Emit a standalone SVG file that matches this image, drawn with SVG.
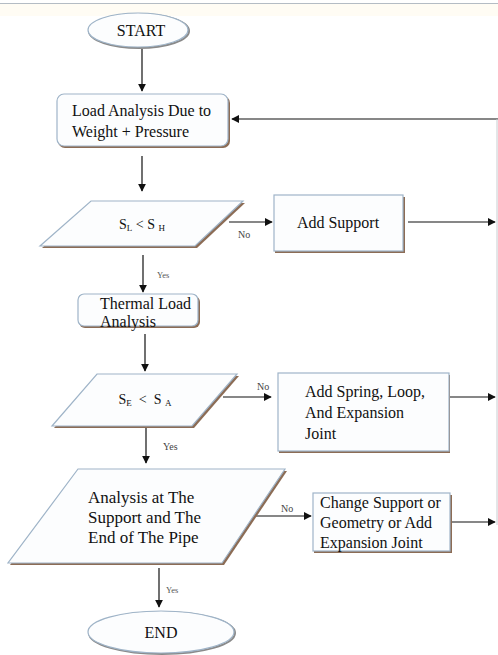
<svg xmlns="http://www.w3.org/2000/svg" width="498" height="655" viewBox="0 0 498 655" font-family="'Liberation Serif', 'Times New Roman', 'DejaVu Serif', serif">
  <style>
    .shape { fill: #fcfdfe; stroke: #9fb4c8; stroke-width: 1.2; }
    .shadow { fill: #8c6c55; stroke: none; }
    .eshadow { fill: none; stroke: #8a8a8a; stroke-width: 2; }
    text { font-family: "Liberation Serif", "Times New Roman", "DejaVu Serif", serif; fill: #111; }
    .txt { font-size: 16px; }
    .big { font-size: 17px; }
    .sym { font-size: 14px; }
    .sub { font-size: 9px; }
    .lbl { font-size: 10px; fill: #444; }
    .lbl-s { font-size: 8.5px; fill: #555; }
    .conn { fill: none; stroke: #111; stroke-width: 1.2; }
    .faint { fill: none; stroke: #c8ccd0; stroke-width: 1; }
  </style>
  <defs>
    <marker id="arrow" viewBox="0 0 10 10" refX="9" refY="5" markerWidth="8" markerHeight="8" markerUnits="userSpaceOnUse" orient="auto">
      <path d="M0,0 L10,5 L0,10 Z" fill="#111"/>
    </marker>
  </defs>

  <rect x="0" y="0" width="498" height="655" fill="#ffffff"/>
  <rect x="0" y="4" width="498" height="12" fill="#fffcf4"/>
  <line x1="0" y1="3.5" x2="498" y2="3.5" stroke="#b4bcc4" stroke-width="1"/>

  <!-- connectors -->
  <g id="connectors">
    <line class="conn" x1="142" y1="49" x2="142" y2="91" marker-end="url(#arrow)"/>
    <line class="conn" x1="142" y1="156" x2="142" y2="191" marker-end="url(#arrow)"/>
    <line class="conn" x1="229" y1="222" x2="272" y2="222" marker-end="url(#arrow)"/>
    <line class="conn" x1="408" y1="222" x2="495" y2="222" marker-end="url(#arrow)"/>
    <line class="conn" x1="143" y1="255" x2="143" y2="292" marker-end="url(#arrow)"/>
    <line class="conn" x1="145" y1="334" x2="145" y2="371" marker-end="url(#arrow)"/>
    <line class="conn" x1="223" y1="397" x2="271" y2="397" marker-end="url(#arrow)"/>
    <line class="conn" x1="450" y1="397" x2="495" y2="397" marker-end="url(#arrow)"/>
    <line class="conn" x1="146" y1="427" x2="146" y2="463" marker-end="url(#arrow)"/>
    <line class="conn" x1="250" y1="516" x2="311" y2="516" marker-end="url(#arrow)"/>
    <line class="conn" x1="452" y1="522" x2="495" y2="522" marker-end="url(#arrow)"/>
    <line class="conn" x1="159" y1="568" x2="159" y2="607" marker-end="url(#arrow)"/>
    <line class="conn" x1="498" y1="119" x2="232" y2="119" marker-end="url(#arrow)"/>
    <line class="faint" x1="497" y1="119" x2="497" y2="525"/>
    <text class="lbl" x="238" y="238">No</text>
    <text class="lbl-s" x="157" y="278">Yes</text>
    <text class="lbl" x="257" y="390">No</text>
    <text class="lbl" x="163" y="450">Yes</text>
    <text class="lbl" x="281" y="512">No</text>
    <text class="lbl-s" x="166" y="593">Yes</text>
  </g>

  <g id="start">
    <ellipse class="eshadow" cx="139" cy="31" rx="50" ry="17"/>
    <ellipse class="shape" cx="138" cy="30" rx="50" ry="17"/>
    <text class="txt" x="141" y="36" text-anchor="middle">START</text>
  </g>

  <g id="load-analysis">
    <rect class="shadow" x="58" y="96" width="172" height="52" rx="7"/>
    <rect class="shape" x="57" y="94" width="171" height="52" rx="7"/>
    <text class="txt" x="72" y="116">Load Analysis Due to</text>
    <text class="txt" x="72" y="137">Weight + Pressure</text>
  </g>

  <g id="check-sl-sh">
    <polygon class="shadow" points="93,203 245,203 197,248 42,248"/>
    <polygon class="shape" points="91,201 243,201 195,246 40,246"/>
    <text class="sym" x="142" y="229" text-anchor="middle">S<tspan class="sub" dy="2">L</tspan><tspan dy="-2"> &lt; S </tspan><tspan class="sub" dy="2">H</tspan></text>
  </g>

  <g id="add-support">
    <rect class="shadow" x="275" y="197" width="130" height="56"/>
    <rect class="shape" x="274" y="195" width="129" height="56"/>
    <text class="txt" x="338" y="228" text-anchor="middle">Add Support</text>
  </g>

  <g id="thermal-load">
    <rect class="shadow" x="79" y="296" width="121" height="32" rx="6"/>
    <rect class="shape" x="78" y="294" width="120" height="32" rx="6"/>
    <text class="txt" x="100" y="309">Thermal Load</text>
    <text class="txt" x="100" y="327">Analysis</text>
  </g>

  <g id="check-se-sa">
    <polygon class="shadow" points="99,376 239,376 194,428 54,428"/>
    <polygon class="shape" points="97,374 237,374 192,426 52,426"/>
    <text class="sym" x="145" y="404" text-anchor="middle" xml:space="preserve">S<tspan class="sub" dy="2">E</tspan><tspan dy="-2">  &lt;  S </tspan><tspan class="sub" dy="2">A</tspan></text>
  </g>

  <g id="add-spring">
    <rect class="shadow" x="279" y="375" width="171" height="78"/>
    <rect class="shape" x="278" y="373" width="171" height="78"/>
    <text class="txt" x="305" y="397">Add Spring, Loop,</text>
    <text class="txt" x="305" y="418">And Expansion</text>
    <text class="txt" x="305" y="439">Joint</text>
  </g>

  <g id="check-support-end">
    <polygon class="shadow" points="80,471 287,471 224,565 10,565"/>
    <polygon class="shape" points="78,469 285,469 222,563 8,563"/>
    <text class="big" x="88" y="503">Analysis at The</text>
    <text class="big" x="88" y="523">Support and The</text>
    <text class="big" x="88" y="543">End of The Pipe</text>
  </g>

  <g id="change-support">
    <rect class="shadow" x="314" y="495" width="138" height="58"/>
    <rect class="shape" x="313" y="493" width="137" height="58"/>
    <text class="txt" x="320" y="508">Change Support or</text>
    <text class="txt" x="320" y="528">Geometry or Add</text>
    <text class="txt" x="320" y="548">Expansion Joint</text>
  </g>

  <g id="end">
    <ellipse class="eshadow" cx="162" cy="633" rx="73" ry="21"/>
    <ellipse class="shape" cx="161" cy="632" rx="73" ry="21"/>
    <text class="txt" x="161" y="638" text-anchor="middle">END</text>
  </g>
</svg>
